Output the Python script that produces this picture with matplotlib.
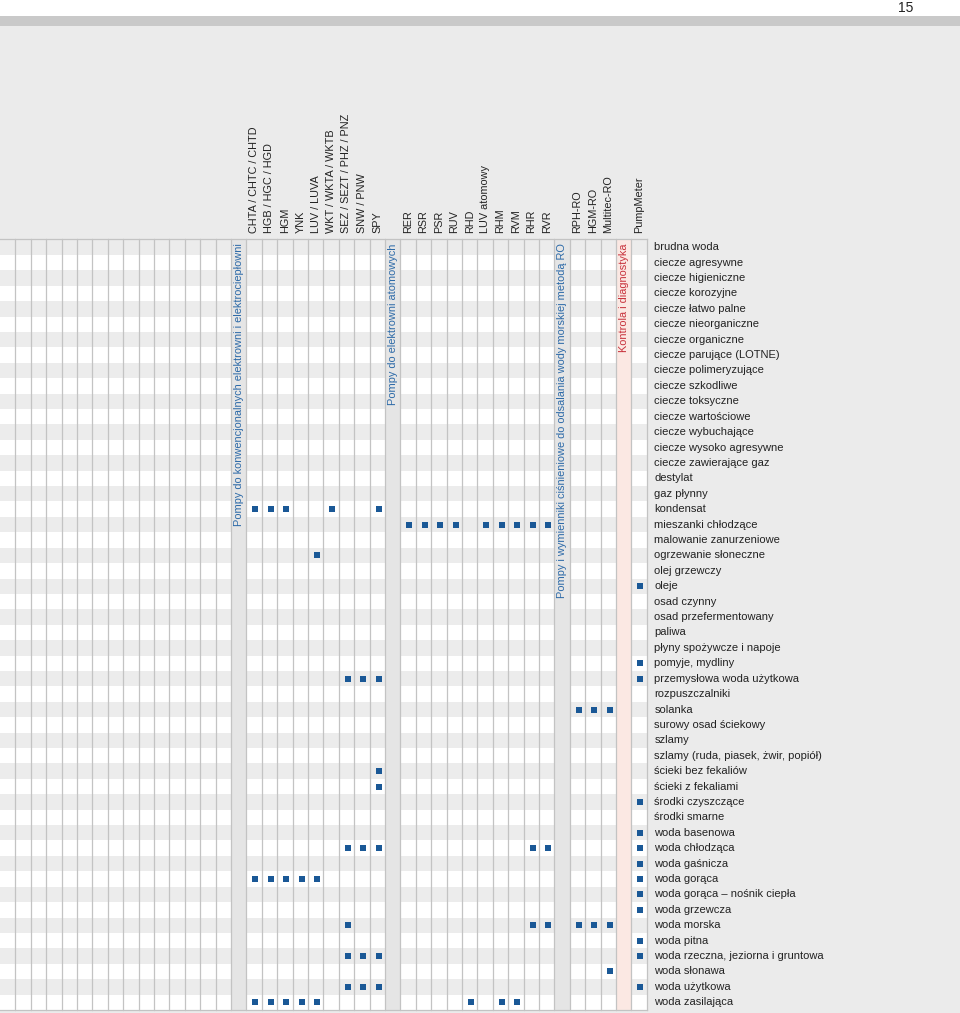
import matplotlib
matplotlib.use("Agg")
import matplotlib.pyplot as plt
from matplotlib.patches import Rectangle

plt.rcParams['font.family'] = ['Liberation Sans Narrow', 'Liberation Sans', 'DejaVu Sans']

# ---------------- data ----------------
media = [
    'brudna woda', 'ciecze agresywne', 'ciecze higieniczne', 'ciecze korozyjne',
    'ciecze łatwo palne', 'ciecze nieorganiczne', 'ciecze organiczne',
    'ciecze parujące (LOTNE)', 'ciecze polimeryzujące', 'ciecze szkodliwe',
    'ciecze toksyczne', 'ciecze wartościowe', 'ciecze wybuchające',
    'ciecze wysoko agresywne', 'ciecze zawierające gaz', 'destylat', 'gaz płynny',
    'kondensat', 'mieszanki chłodzące', 'malowanie zanurzeniowe',
    'ogrzewanie słoneczne', 'olej grzewczy', 'oleje', 'osad czynny',
    'osad przefermentowany', 'paliwa', 'płyny spożywcze i napoje',
    'pomyje, mydliny', 'przemysłowa woda użytkowa', 'rozpuszczalniki', 'solanka',
    'surowy osad ściekowy', 'szlamy', 'szlamy (ruda, piasek, żwir, popiół)',
    'ścieki bez fekaliów', 'ścieki z fekaliami', 'środki czyszczące',
    'środki smarne', 'woda basenowa', 'woda chłodząca', 'woda gaśnicza',
    'woda gorąca', 'woda gorąca – nośnik ciepła', 'woda grzewcza', 'woda morska',
    'woda pitna', 'woda rzeczna, jeziorna i gruntowa', 'woda słonawa',
    'woda użytkowa', 'woda zasilająca',
]

n_empty_cols = 15

group_conv = 'Pompy do konwencjonalnych elektrowni i elektrociepłowni'
products_conv = ['CHTA / CHTC / CHTD', 'HGB / HGC / HGD', 'HGM', 'YNK', 'LUV / LUVA',
                 'WKT / WKTA / WKTB', 'SEZ / SEZT / PHZ / PNZ', 'SNW / PNW', 'SPY']
group_nuc = 'Pompy do elektrowni atomowych'
products_nuc = ['RER', 'RSR', 'PSR', 'RUV', 'RHD', 'LUV atomowy', 'RHM', 'RVM', 'RHR', 'RVR']
group_ro = 'Pompy i wymienniki ciśnieniowe do odsalania wody morskiej metodą RO'
products_ro = ['RPH-RO', 'HGM-RO', 'Multitec-RO']
group_ctrl = 'Kontrola i diagnostyka'
products_ctrl = ['PumpMeter']

# applications per product (media marked with a square)
app_CHTA = ['kondensat', 'woda gorąca', 'woda zasilająca']
app_HGB = ['kondensat', 'woda gorąca', 'woda zasilająca']
app_HGM = ['kondensat', 'woda gorąca', 'woda zasilająca']
app_YNK = ['woda gorąca', 'woda zasilająca']
app_LUV = ['ogrzewanie słoneczne', 'woda gorąca', 'woda zasilająca']
app_WKT = ['kondensat']
app_SEZ = ['przemysłowa woda użytkowa', 'woda chłodząca', 'woda morska',
           'woda rzeczna, jeziorna i gruntowa', 'woda użytkowa']
app_SNW = ['przemysłowa woda użytkowa', 'woda chłodząca',
           'woda rzeczna, jeziorna i gruntowa', 'woda użytkowa']
app_SPY = ['kondensat', 'przemysłowa woda użytkowa', 'ścieki bez fekaliów',
           'ścieki z fekaliami', 'woda chłodząca',
           'woda rzeczna, jeziorna i gruntowa', 'woda użytkowa']
app_RER = ['mieszanki chłodzące']
app_RSR = ['mieszanki chłodzące']
app_PSR = ['mieszanki chłodzące']
app_RUV = ['mieszanki chłodzące']
app_RHD = ['woda zasilająca']
app_LUV_at = ['mieszanki chłodzące']
app_RHM = ['mieszanki chłodzące', 'woda zasilająca']
app_RVM = ['mieszanki chłodzące', 'woda zasilająca']
app_RHR = ['mieszanki chłodzące', 'woda chłodząca', 'woda morska']
app_RVR = ['mieszanki chłodzące', 'woda chłodząca', 'woda morska']
app_RPH_RO = ['solanka', 'woda morska']
app_HGM_RO = ['solanka', 'woda morska']
app_Multitec_RO = ['solanka', 'woda morska', 'woda słonawa']
app_PumpMeter = ['oleje', 'pomyje, mydliny', 'przemysłowa woda użytkowa',
                 'środki czyszczące', 'woda basenowa', 'woda chłodząca',
                 'woda gaśnicza', 'woda gorąca', 'woda gorąca – nośnik ciepła',
                 'woda grzewcza', 'woda pitna', 'woda rzeczna, jeziorna i gruntowa',
                 'woda użytkowa']

apps_conv = [app_CHTA, app_HGB, app_HGM, app_YNK, app_LUV, app_WKT, app_SEZ, app_SNW, app_SPY]
apps_nuc = [app_RER, app_RSR, app_PSR, app_RUV, app_RHD, app_LUV_at, app_RHM, app_RVM,
            app_RHR, app_RVR]
apps_ro = [app_RPH_RO, app_HGM_RO, app_Multitec_RO]
apps_ctrl = [app_PumpMeter]

page_number = '15'

# ---------------- colours ----------------
C_BG = '#ebebeb'
C_BAND = '#c9c9c9'
C_ROW_ALT = '#ececec'
C_GROUP = '#e5e5e5'
C_CTRL = '#fbe8e3'
C_LINE = '#c3c3c3'
C_MARK = '#1a5896'
C_BLUE_TXT = '#2d6aa8'
C_RED_TXT = '#c8323c'
C_TXT = '#222222'

FS_HEAD = 7.8
FS_ROW = 8.0
FS_GROUP = 7.9

# ---------------- layout ----------------
W, H = 960, 1013
fig = plt.figure(figsize=(W / 100, H / 100), dpi=100)
fig.patch.set_facecolor('white')

col_px = 15.4
row_px = 15.41
grid_top_px = 239.5

ax = fig.add_axes([0, 0, 1, 1])
ax.set_xlim(0, W / col_px)
ax.set_ylim((H - grid_top_px) / row_px, -grid_top_px / row_px)
ax.axis('off')

n_rows = len(media)
y_top_fig = -grid_top_px / row_px
y_bot_fig = (H - grid_top_px) / row_px
x_right_fig = W / col_px

# build columns
columns = []  # (kind, label, apps)
for i in range(n_empty_cols):
    columns.append(('empty', '', []))
for grp, prods, apps, kind in [(group_conv, products_conv, apps_conv, 'group'),
                               (group_nuc, products_nuc, apps_nuc, 'group'),
                               (group_ro, products_ro, apps_ro, 'group'),
                               (group_ctrl, products_ctrl, apps_ctrl, 'ctrl')]:
    columns.append((kind, grp, []))
    for p, a in zip(prods, apps):
        columns.append(('prod', p, a))
n_cols = len(columns)

# backgrounds
ax.add_patch(Rectangle((0, y_top_fig), x_right_fig, 1.05, facecolor='white', lw=0, zorder=0))
ax.add_patch(Rectangle((0, y_top_fig + 16 / row_px), x_right_fig, 10 / row_px,
                       facecolor=C_BAND, lw=0, zorder=0.5))
ax.add_patch(Rectangle((0, y_top_fig + 26 / row_px), x_right_fig, y_bot_fig - y_top_fig,
                       facecolor=C_BG, lw=0, zorder=0.2))
ax.text(x_right_fig - 54 / col_px, y_top_fig + 7.5 / row_px, page_number, ha='center',
        va='center', fontsize=10, color=C_TXT, zorder=3)

# grid rows
ax.add_patch(Rectangle((0, 0), n_cols, n_rows, facecolor='white', lw=0, zorder=1))
for r in range(0, n_rows, 2):
    ax.add_patch(Rectangle((0, r), n_cols, 1, facecolor=C_ROW_ALT, lw=0, zorder=1.1))

for c, (kind, label, apps) in enumerate(columns):
    if kind in ('group', 'ctrl'):
        ax.add_patch(Rectangle((c, 0), 1, n_rows,
                               facecolor=C_GROUP if kind == 'group' else C_CTRL,
                               lw=0, zorder=1.2))
        ax.text(c + 0.5, 0.25, label, rotation=90, ha='center', va='top',
                fontsize=FS_GROUP, color=C_BLUE_TXT if kind == 'group' else C_RED_TXT,
                zorder=3)
    elif kind == 'prod':
        ax.text(c + 0.5, -0.42, label, rotation=90, ha='center', va='bottom',
                fontsize=FS_HEAD, color=C_TXT, zorder=3)
        rows = [media.index(m) + 0.5 for m in apps]
        ax.scatter([c + 0.58] * len(rows), rows, marker='s', s=19, color=C_MARK,
                   linewidths=0, zorder=4)

# vertical lines
for c in range(1, n_cols + 1):
    ax.plot([c, c], [0, n_rows], color=C_LINE, lw=0.9, zorder=2)
ax.plot([0, n_cols], [0, 0], color=C_LINE, lw=0.9, zorder=2)
ax.plot([0, n_cols], [n_rows, n_rows], color=C_LINE, lw=0.9, zorder=2)

# row labels
for r, m in enumerate(media):
    ax.text(n_cols + 0.5, r + 0.5, m, ha='left', va='center', fontsize=FS_ROW,
            color=C_TXT, zorder=3)

fig.savefig('out.png', dpi=100)
